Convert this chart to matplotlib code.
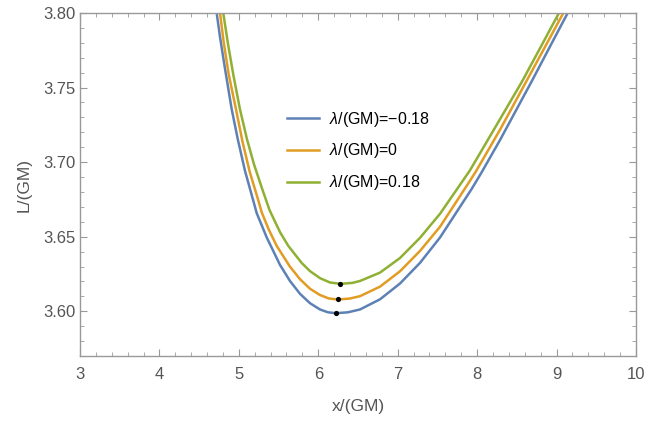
import matplotlib.pyplot as plt

# values
x_blue = [4.721, 4.763, 4.826, 4.910, 4.989, 5.077, 5.225, 5.351, 5.518, 5.644, 5.770,
          5.896, 6.022, 6.122, 6.223, 6.374, 6.525, 6.777, 7.029, 7.280, 7.532, 7.931,
          8.057, 8.288, 8.687, 8.917, 9.140]
L_blue = [3.8000, 3.7839, 3.7626, 3.7355, 3.7148, 3.6943, 3.6658, 3.6495, 3.6311, 3.6203, 3.6117,
          3.6054, 3.6012, 3.5993, 3.5987, 3.5993, 3.6012, 3.6080, 3.6186, 3.6324, 3.6494, 3.6820,
          3.6932, 3.7148, 3.7542, 3.7775, 3.8000]

x_orange = [4.763, 4.809, 4.872, 4.964, 5.048, 5.136, 5.245, 5.288, 5.376, 5.476, 5.640,
            5.770, 5.896, 6.018, 6.131, 6.244, 6.395, 6.525, 6.777, 7.029, 7.280, 7.532,
            7.910, 7.986, 8.288, 8.631, 8.867, 9.085]
L_orange = [3.8000, 3.7805, 3.7590, 3.7355, 3.7133, 3.6937, 3.6744, 3.6663, 3.6549, 3.6439, 3.6302,
            3.6215, 3.6151, 3.6110, 3.6086, 3.6079, 3.6085, 3.6101, 3.6165, 3.6268, 3.6404, 3.6566,
            3.6875, 3.6939, 3.7217, 3.7553, 3.7785, 3.8000]

x_green = [4.804, 4.863, 4.933, 5.014, 5.102, 5.191, 5.300, 5.386, 5.518, 5.622, 5.791,
           5.896, 6.022, 6.147, 6.277, 6.428, 6.525, 6.777, 7.029, 7.280, 7.532, 7.910,
           8.288, 8.568, 8.791, 9.030]
L_green = [3.8000, 3.7794, 3.7579, 3.7355, 3.7155, 3.6985, 3.6811, 3.6679, 3.6531, 3.6439, 3.6324,
           3.6269, 3.6222, 3.6193, 3.6184, 3.6190, 3.6203, 3.6259, 3.6357, 3.6492, 3.6653, 3.6945,
           3.7288, 3.7543, 3.7763, 3.8000]

labels = ['$\\mathit{\\lambda}$/(GM)=\u22120.18', '$\\mathit{\\lambda}$/(GM)=0', '$\\mathit{\\lambda}$/(GM)=0.18']
colors = ['#5E81B5', '#E19C24', '#8FB032']

# minima marked with black dots
x_min = [6.223, 6.244, 6.277]
L_min = [3.5987, 3.6079, 3.6184]

plt.rcParams['font.family'] = ['Liberation Sans', 'DejaVu Sans']
plt.rcParams['mathtext.fontset'] = 'custom'
plt.rcParams['mathtext.it'] = 'Liberation Sans:italic'
plt.rcParams['mathtext.rm'] = 'Liberation Sans'

fig = plt.figure(figsize=(6.46, 4.24), dpi=100)
ax = fig.add_axes([0.1238, 0.1604, 0.8607, 0.8089])

series = [(x_blue, L_blue), (x_orange, L_orange), (x_green, L_green)]
for (xs, ls), c, lab in zip(series, colors, labels):
    ax.plot(xs, ls, color=c, lw=1.8, label=lab, solid_joinstyle='round')
ax.scatter(x_min, L_min, color='black', s=14, zorder=5, linewidths=0)

ax.set_xlim(3, 10)
ax.set_ylim(3.57, 3.80)
ax.set_xticks(range(3, 11))
ax.set_yticks([3.60, 3.65, 3.70, 3.75, 3.80])
ax.set_yticklabels(['3.60', '3.65', '3.70', '3.75', '3.80'])
ax.set_xticks([3 + 0.2 * i for i in range(36)], minor=True)
ax.set_yticks([3.57 + 0.01 * i for i in range(24)], minor=True)

grey = '#999999'
for s in ax.spines.values():
    s.set_color(grey)
    s.set_linewidth(1)
ax.tick_params(which='both', direction='in', top=True, right=True, color=grey,
               labelcolor='#555555', labelsize=12)
ax.tick_params(which='major', length=5)
ax.tick_params(which='minor', length=3)
ax.tick_params(axis='x', pad=8)

ax.set_xlabel('x/(GM)', color='#555555', fontsize=12.5, labelpad=12)
ax.set_ylabel('L/(GM)', color='#555555', fontsize=12.5, labelpad=8)

ax.legend(loc='upper left', bbox_to_anchor=(0.347, 0.76), frameon=False,
          fontsize=11.5, handlelength=2.0, handletextpad=0.6, labelspacing=0.8)

fig.savefig('out.png', dpi=100)
